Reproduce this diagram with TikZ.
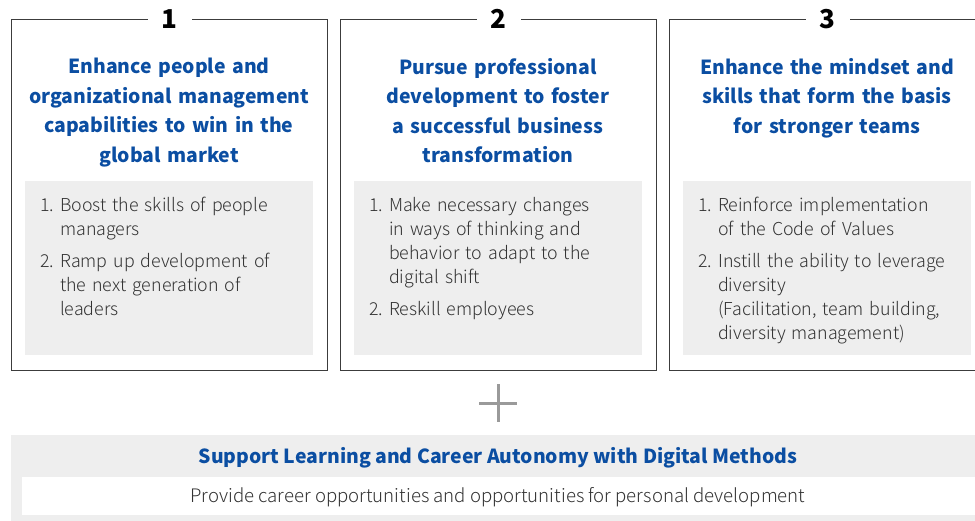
\documentclass[tikz,border=0pt]{standalone}
\usepackage{fontspec}
\setmainfont{Noto Sans CJK JP}
\newfontfamily\lightfont{Noto Sans CJK JP Light}
\usetikzlibrary{positioning}
\definecolor{headblue}{HTML}{0B4EA2}
\definecolor{panelgray}{HTML}{EEEEEE}
\definecolor{framegray}{HTML}{3C3C3C}
\definecolor{bodytext}{HTML}{333333}
\definecolor{plusgray}{HTML}{9A9A9A}
\newcommand{\listitem}[2]{\par\noindent\hangindent=20pt\hangafter=1\makebox[20pt][l]{#1}#2\par}

\begin{document}
\begin{tikzpicture}[
    x=1pt, y=-1pt,
    frame/.style={draw=framegray, line width=1.2pt, minimum width=316pt, minimum height=351pt, inner sep=0pt, anchor=north west},
    panel/.style={fill=panelgray, minimum width=288pt, minimum height=174pt, inner sep=0pt, anchor=north west},
    numlabel/.style={fill=white, text=black, font=\bfseries\fontsize{26}{26}\selectfont, inner xsep=14pt, inner ysep=0pt},
    heading/.style={text=headblue, font=\bfseries\fontsize{19.4}{29.5}\selectfont, align=center, text width=300pt, inner sep=0pt, anchor=north},
    items/.style={text=bodytext, font=\lightfont\fontsize{17.8}{24}\selectfont, text width=270pt, inner sep=0pt, anchor=north west},
    plus/.style={draw=plusgray, line width=3pt}
]
\useasboundingbox (0,0) rectangle (975,520);

% Frames
\node[frame] (frame1) at (11,19) {};
\node[frame] (frame2) at (340,19) {};
\node[frame] (frame3) at (669,19) {};

% Numbers
\node[numlabel] (num1) at (frame1.north) {1};
\node[numlabel] (num2) at (frame2.north) {2};
\node[numlabel] (num3) at (frame3.north) {3};

% Headings
\node[heading] (head1) at (169,58) {Enhance people and\\organizational management\\capabilities to win in the\\global market};
\node[heading] (head2) at (498,58) {Pursue professional\\development to foster\\a successful business\\transformation};
\node[heading] (head3) at (827,58) {Enhance the mindset and\\skills that form the basis\\for stronger teams};

% Panels
\node[panel] (panel1) at (25,181) {};
\node[panel] (panel2) at (354,181) {};
\node[panel] (panel3) at (683,181) {};

% Items
\node[items] (items1) at (40,187) {%
  \listitem{1.}{Boost the skills of people\newline managers}\vspace{8pt}%
  \listitem{2.}{Ramp up development of\newline the next generation of\newline leaders}};
\node[items] (items2) at (369,187) {%
  \listitem{1.}{Make necessary changes\newline in ways of thinking and\newline behavior to adapt to the\newline digital shift}\vspace{8pt}%
  \listitem{2.}{Reskill employees}};
\node[items] (items3) at (698,187) {%
  \listitem{1.}{Reinforce implementation\newline of the Code of Values}\vspace{8pt}%
  \listitem{2.}{Instill the ability to leverage\newline diversity\newline (Facilitation, team building,\newline diversity management)}};

% Plus
\coordinate (pluscenter) at (498,403);
\draw[plus] ([xshift=-19pt]pluscenter) -- ([xshift=19pt]pluscenter);
\draw[plus] ([yshift=19pt]pluscenter) -- ([yshift=-19pt]pluscenter);

% Bottom
\fill[panelgray] (11,435) rectangle (990,525);
\fill[white] (22,477) rectangle (990,515);
\node[text=headblue, font=\bfseries\fontsize{19.4}{24}\selectfont, anchor=base] (bottomhead) at (498,463) {Support Learning and Career Autonomy with Digital Methods};
\node[text=bodytext, font=\lightfont\fontsize{18.6}{22}\selectfont, anchor=base] (bottomtext) at (498,502) {Provide career opportunities and opportunities for personal development};

\end{tikzpicture}
\end{document}
